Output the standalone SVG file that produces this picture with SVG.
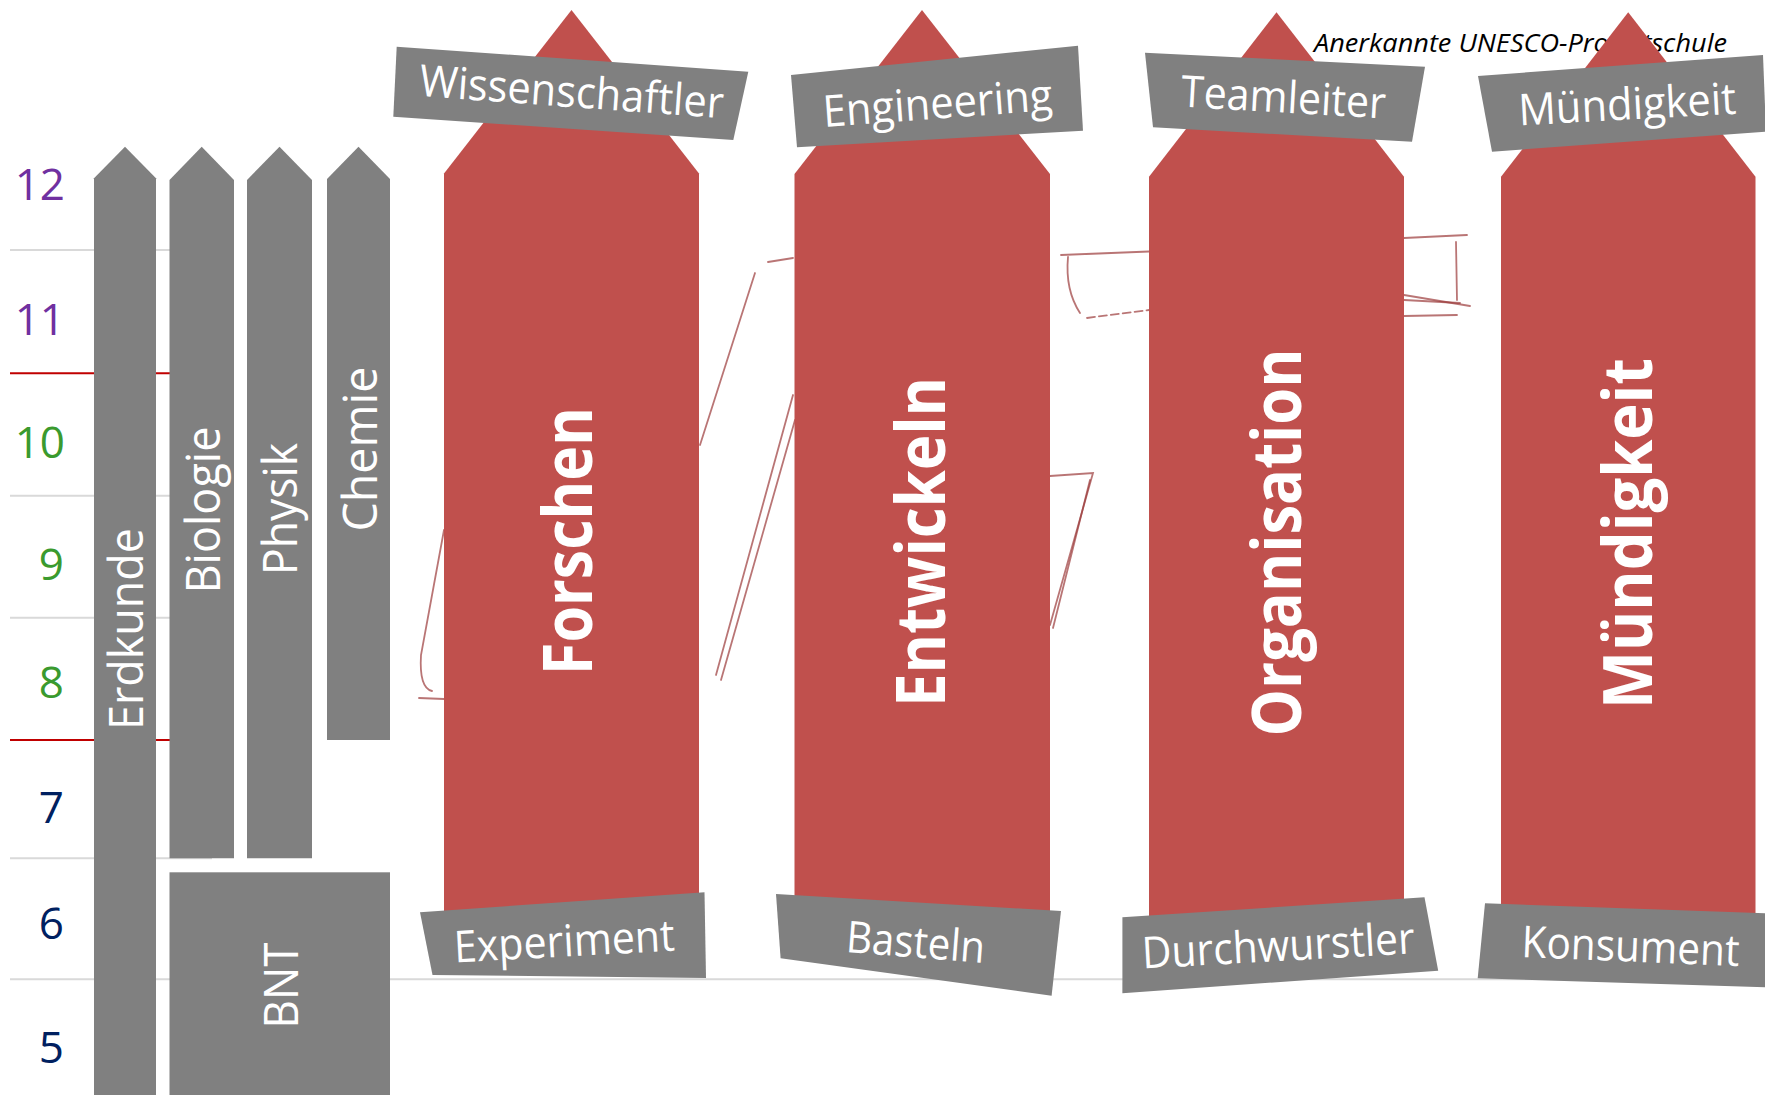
<svg xmlns="http://www.w3.org/2000/svg" width="1765" height="1095" viewBox="0 0 1765 1095">
<style>
.grid{stroke:#D9D9D9;stroke-width:2;fill:none}
.gridr{stroke:#C00000;stroke-width:2;fill:none}
.col{fill:#808080}
.arrow{fill:#C0504D}
.box{fill:#808080}
.sk{fill:none;stroke:#9B3A3A;stroke-opacity:0.7;stroke-width:1.8;stroke-linecap:round}
.num{font-family:"Open Sans","Liberation Sans",sans-serif;font-size:44px;text-anchor:end}
.lbl{font-family:"Open Sans","Liberation Sans",sans-serif;font-size:48px;fill:#FFFFFF;text-anchor:middle}
.big{font-family:"Open Sans","Liberation Sans",sans-serif;font-size:68px;font-weight:bold;fill:#FFFFFF;text-anchor:middle}
.tag{font-family:"Open Sans","Liberation Sans",sans-serif;font-size:44px;fill:#FFFFFF;text-anchor:middle}
.note{font-family:"Open Sans","Liberation Sans",sans-serif;font-size:26px;font-style:italic;fill:#000000}
</style>

<g id="grid">
  <line class="grid" x1="10" y1="250" x2="212" y2="250"/>
  <line class="gridr" x1="10" y1="373.3" x2="212" y2="373.3"/>
  <line class="grid" x1="10" y1="495.7" x2="212" y2="495.7"/>
  <line class="grid" x1="10" y1="617.7" x2="212" y2="617.7"/>
  <line class="gridr" x1="10" y1="740" x2="212" y2="740"/>
  <line class="grid" x1="10" y1="858.3" x2="212" y2="858.3"/>
  <line class="grid" x1="10" y1="979.3" x2="1765" y2="979.3"/>
</g>

<g id="grades">
  <text class="num" x="65" y="200" fill="#7030A0">12</text>
  <text class="num" x="65" y="335" fill="#7030A0">11</text>
  <text class="num" x="65" y="458.3" fill="#3A9A2E">10</text>
  <text class="num" x="64" y="580" fill="#3A9A2E">9</text>
  <text class="num" x="64" y="698.3" fill="#3A9A2E">8</text>
  <text class="num" x="64" y="823.3" fill="#002060">7</text>
  <text class="num" x="64" y="939.3" fill="#002060">6</text>
  <text class="num" x="64" y="1063.3" fill="#002060">5</text>
</g>

<g id="sketch">
  <path class="sk" d="M444,530 L421,655 Q419,688 432,691"/>
  <path class="sk" d="M419,698 L444,699" stroke-width="2.8"/>
  <path class="sk" d="M755,273 L700,445"/>
  <path class="sk" d="M768,262 L793,258"/>
  <path class="sk" d="M793,395 L716,675" stroke-width="2.4"/>
  <path class="sk" d="M795,420 L721,680"/>
  <path class="sk" d="M1061,255 L1149,251.5" stroke-width="3"/>
  <path class="sk" d="M1068,257 Q1065,290 1080,313" stroke-width="2.4"/>
  <path class="sk" d="M1087,318 L1149,310" stroke-dasharray="8 4"/>
  <path class="sk" d="M1404,238 L1467,235" stroke-width="2.4"/>
  <path class="sk" d="M1456,242 L1457,300" stroke-width="2.2"/>
  <path class="sk" d="M1404,295 L1470,306"/>
  <path class="sk" d="M1404,300 L1460,303"/>
  <path class="sk" d="M1404,316 L1457,315"/>
  <path class="sk" d="M1050,476 L1093,473 L1050,625"/>
  <path class="sk" d="M1090,480 L1053,628"/>
</g>

<g id="subjects">
  <g id="erdkunde">
    <polygon class="col" points="125,146.7 156,178.3 156,1095 94,1095 94,178.3"/>
    <text class="lbl" transform="translate(143,629) rotate(-90)" textLength="202" lengthAdjust="spacingAndGlyphs">Erdkunde</text>
  </g>
  <g id="biologie">
    <polygon class="col" points="201.7,146.7 234,180 234,858.3 169.5,858.3 169.5,180"/>
    <text class="lbl" transform="translate(219.5,510) rotate(-90)" textLength="167" lengthAdjust="spacingAndGlyphs">Biologie</text>
  </g>
  <g id="physik">
    <polygon class="col" points="279.5,146.7 312,180 312,858.3 247,858.3 247,180"/>
    <text class="lbl" transform="translate(296.5,509) rotate(-90)" textLength="132" lengthAdjust="spacingAndGlyphs">Physik</text>
  </g>
  <g id="chemie">
    <polygon class="col" points="358.5,146.7 390,179 390,740 327,740 327,179"/>
    <text class="lbl" transform="translate(376.5,449) rotate(-90)" textLength="165" lengthAdjust="spacingAndGlyphs">Chemie</text>
  </g>
  <g id="bnt">
    <rect class="col" x="169.5" y="872.3" width="220.5" height="222.7"/>
    <text class="lbl" transform="translate(297.5,985.5) rotate(-90)" textLength="86" lengthAdjust="spacingAndGlyphs">BNT</text>
  </g>
</g>

<text id="unesco" class="note" x="1314" y="52" textLength="413" lengthAdjust="spacingAndGlyphs">Anerkannte UNESCO-Projektschule</text>

<g id="forschen">
  <polygon class="arrow" points="571.5,10 699,173.5 699,935 444,935 444,173.5"/>
  <text class="big" transform="translate(592,541) rotate(-90)" textLength="268" lengthAdjust="spacingAndGlyphs">Forschen</text>
  <polygon class="box" points="396.7,46.7 748.3,71.7 733.3,140 393.3,116.7"/>
  <text class="tag" transform="translate(570.5,107) rotate(4.2)" textLength="305" lengthAdjust="spacingAndGlyphs">Wissenschaftler</text>
  <polygon class="box" points="420,912.3 704.5,892.3 706,978 432.5,975"/>
  <text class="tag" transform="translate(565,956.5) rotate(-3.1)" textLength="221" lengthAdjust="spacingAndGlyphs">Experiment</text>
</g>

<g id="entwickeln">
  <polygon class="arrow" points="922,10 1050,174 1050,935 794.5,935 794.5,174"/>
  <text class="big" transform="translate(945,542) rotate(-90)" textLength="330" lengthAdjust="spacingAndGlyphs">Entwickeln</text>
  <polygon class="box" points="791,75 1078,45.7 1083,130.7 797,147.3"/>
  <text class="tag" transform="translate(938.7,118.5) rotate(-4.2)" textLength="230" lengthAdjust="spacingAndGlyphs">Engineering</text>
  <polygon class="box" points="776,894 1061,911 1051.6,995.7 780.6,958.3"/>
  <text class="tag" transform="translate(914.5,957.5) rotate(4.5)" textLength="139" lengthAdjust="spacingAndGlyphs">Basteln</text>
</g>

<g id="organisation">
  <polygon class="arrow" points="1276.5,12.3 1404,176.7 1404,940 1149,940 1149,176.7"/>
  <text class="big" transform="translate(1300.5,542.5) rotate(-90)" textLength="388" lengthAdjust="spacingAndGlyphs">Organisation</text>
  <polygon class="box" points="1145,52.7 1425,66.7 1412,141.7 1153,127.3"/>
  <text class="tag" transform="translate(1282.7,112.5) rotate(3.3)" textLength="205" lengthAdjust="spacingAndGlyphs">Teamleiter</text>
  <polygon class="box" points="1122.4,917.3 1424.5,897.3 1438.2,970.7 1122.4,993.3"/>
  <text class="tag" transform="translate(1279,961) rotate(-3.2)" textLength="273" lengthAdjust="spacingAndGlyphs">Durchwurstler</text>
</g>

<g id="muendigkeit">
  <polygon class="arrow" points="1628.2,12.3 1755.5,176.7 1755.5,940 1501,940 1501,176.7"/>
  <text class="big" transform="translate(1651.5,533.5) rotate(-90)" textLength="351" lengthAdjust="spacingAndGlyphs">Mündigkeit</text>
  <polygon class="box" points="1478,76 1763,55 1766,131.7 1492,151.7"/>
  <text class="tag" transform="translate(1628,119.5) rotate(-3.1)" textLength="218" lengthAdjust="spacingAndGlyphs">Mündigkeit</text>
  <polygon class="box" points="1485,903.3 1766,913.3 1766,987.3 1477.7,978.3"/>
  <text class="tag" transform="translate(1630,961.5) rotate(2.4)" textLength="218" lengthAdjust="spacingAndGlyphs">Konsument</text>
</g>
</svg>
